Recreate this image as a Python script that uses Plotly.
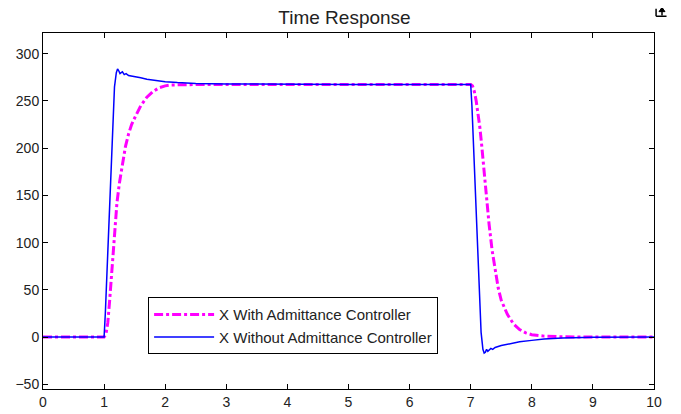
import plotly.graph_objects as go

# Time samples (s) and values
t_with = [0, 1.0, 1.03, 1.06, 1.09, 1.12, 1.15, 1.18, 1.21, 1.25, 1.3, 1.35, 1.4, 1.45, 1.5, 1.55,
          1.6, 1.7, 1.8, 1.9, 2.0, 2.1, 2.3, 2.6,
          3.0, 4.0, 5.0, 6.0, 7.0, 7.03, 7.06, 7.09, 7.12, 7.15, 7.18, 7.21, 7.25, 7.3, 7.35,
          7.4, 7.45, 7.5, 7.55, 7.6, 7.7, 7.8, 7.9, 8.0, 8.2, 8.5, 9.0, 10.0]
x_with = [0, 0, 3, 15, 38, 65, 95, 120, 142, 163, 185, 202, 215, 225, 232, 239,
          245, 254, 260, 264, 266, 267, 267.3, 267.5,
          267.5, 267.5, 267.5, 267.5, 267.5, 266, 260, 250, 238, 222, 203, 182, 152, 120, 92,
          70, 52, 39, 31, 24, 14, 8, 4.5, 2.5, 1, 0.3, 0, 0]

t_without = [0, 1.0, 1.02, 1.05, 1.08, 1.11, 1.14, 1.17, 1.2, 1.22, 1.24, 1.26, 1.28, 1.3, 1.33,
             1.36, 1.4, 1.45, 1.5, 1.6, 1.7, 1.8, 2.0, 2.2, 2.5, 3.0, 3.5, 4.0, 5.0, 6.0, 7.0,
             7.02, 7.05, 7.08, 7.11, 7.14, 7.17, 7.2, 7.22, 7.24, 7.26, 7.28, 7.3, 7.33, 7.36,
             7.4, 7.5, 7.6, 7.7, 7.8, 8.0, 8.2, 8.5, 9.0, 10.0]
x_without = [0, 0, 25, 75, 130, 185, 235, 265, 280, 284, 282, 279, 280, 281, 278,
             279, 277, 276.5, 276, 274.5, 273, 272, 270.5, 269.5, 268.5, 268, 267.7, 267.5, 267.5, 267.5, 267.5,
             245, 195, 140, 85, 40, 5, -13, -17, -16, -13, -15, -14, -12, -13,
             -11, -9, -7.5, -6, -5, -3.5, -2, -1, -0.3, 0]

x_ticks = list(range(0, 11))
y_ticks = [-50, 0, 50, 100, 150, 200, 250, 300]

font = "Liberation Sans, Arial, sans-serif"

fig = go.Figure()
fig.add_trace(go.Scatter(
    x=t_with, y=x_with, mode="lines", name="X With Admittance Controller",
    line=dict(color="#ff00ff", width=3, dash="dashdot"),
))
fig.add_trace(go.Scatter(
    x=t_without, y=x_without, mode="lines", name="X Without Admittance Controller",
    line=dict(color="#0000ff", width=1.5),
))

axis_common = dict(
    showline=True, linecolor="black", linewidth=1, mirror="ticks",
    ticks="inside", ticklen=5, tickcolor="black", showgrid=False, zeroline=False,
    automargin=False,
    tickfont=dict(family=font, size=14, color="#222222"),
)
fig.update_xaxes(range=[0, 10], tickvals=x_ticks, **axis_common)
fig.update_yaxes(range=[-55, 322], tickvals=y_ticks, **axis_common)

# small "undock" glyph at the top-right corner (MATLAB figure decoration)
icon = dict(xref="paper", yref="paper", line=dict(color="black", width=1.5))
shapes = [
    dict(type="line", x0=1.0034, x1=1.0034, y0=1.047, y1=1.068, **icon),
    dict(type="line", x0=1.0034, x1=1.0205, y0=1.047, y1=1.047, **icon),
    dict(type="line", x0=1.0131, x1=1.0131, y0=1.049, y1=1.070, **icon),
    dict(type="path", path="M 1.0082 1.060 L 1.0131 1.072 L 1.0180 1.060 Z",
         fillcolor="black", xref="paper", yref="paper", line=dict(color="black", width=1)),
]

fig.update_layout(
    width=673, height=406,
    margin=dict(l=35, r=27, t=25, b=25),
    paper_bgcolor="white", plot_bgcolor="white",
    title=dict(text="Time Response", x=0.5, xanchor="center", y=0.978, yanchor="middle",
               font=dict(family=font, size=19, color="#222222")),
    showlegend=True,
    legend=dict(x=0.172, y=0.258, xanchor="left", yanchor="top",
                bgcolor="white", bordercolor="black", borderwidth=1,
                font=dict(family=font, size=15, color="#222222"),
                tracegroupgap=0, itemwidth=60),
    shapes=shapes,
)

fig.write_html("out.html")
